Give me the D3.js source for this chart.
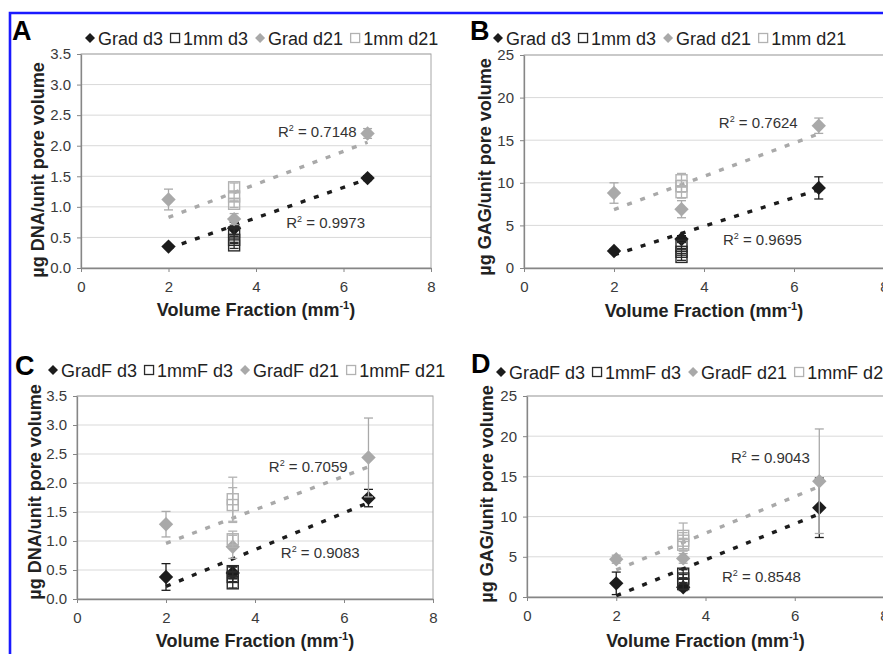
<!DOCTYPE html>
<html><head><meta charset="utf-8">
<script src="https://cdn.jsdelivr.net/npm/d3@7"></script>
<style>
body{margin:0;background:#fff}
svg{display:block}
text{font-family:"Liberation Sans",Arial,sans-serif}
</style>
</head><body>
<svg id="c" width="883" height="654"></svg>
<script>
// ---------- data ----------
const xTicks = [0, 2, 4, 6, 8];
const dnaTicks = [0, 0.5, 1, 1.5, 2, 2.5, 3, 3.5];
const gagTicks = [0, 5, 10, 15, 20, 25];

const gradX = [2, 3.5, 6.55];
const oneMmX = [3.5, 3.5, 3.5];

const legendAB = ["Grad d3", "1mm d3", "Grad d21", "1mm d21"];
const legendCD = ["GradF d3", "1mmF d3", "GradF d21", "1mmF d21"];

// Panel A: DNA
const A_gradD3 = [0.35, 0.65, 1.47],  A_gradD3Err = [0.03, 0.1, 0.04];
const A_1mmD3 = [0.58, 0.46, 0.37],   A_1mmD3Err = [0.06, 0.06, 0.05];
const A_gradD21 = [1.12, 0.80, 2.20], A_gradD21Err = [0.17, 0.09, 0.08];
const A_1mmD21 = [1.32, 1.17, 1.05],  A_1mmD21Err = [0.07, 0.08, 0.06];
const A_r2 = ["0.7148", "0.9973"];

// Panel B: GAG
const B_gradD3 = [2.0, 3.4, 9.4],     B_gradD3Err = [0.2, 0.4, 1.3];
const B_1mmD3 = [2.6, 1.9, 1.3],      B_1mmD3Err = [0.4, 0.4, 0.4];
const B_gradD21 = [8.8, 6.9, 16.7],   B_gradD21Err = [1.2, 1.0, 0.9];
const B_1mmD21 = [10.3, 9.6, 8.9],    B_1mmD21Err = [0.8, 0.7, 0.7];
const B_r2 = ["0.7624", "0.9695"];

// Panel C: DNA (F)
const C_gradD3 = [0.38, 0.45, 1.74],  C_gradD3Err = [0.23, 0.1, 0.15];
const C_1mmD3 = [0.48, 0.38, 0.27],   C_1mmD3Err = [0.08, 0.08, 0.08];
const C_gradD21 = [1.29, 0.90, 2.44], C_gradD21Err = [0.22, 0.2, 0.68];
const C_1mmD21 = [1.72, 1.62, 1.03],  C_1mmD21Err = [0.38, 0.3, 0.14];
const C_r2 = ["0.7059", "0.9083"];

// Panel D: GAG (F)
const D_gradD3 = [1.7, 1.2, 11.1],    D_gradD3Err = [1.4, 0.4, 3.7];
const D_1mmD3 = [2.9, 2.3, 1.6],      D_1mmD3Err = [0.5, 0.5, 0.6];
const D_gradD21 = [4.7, 4.8, 14.4],   D_gradD21Err = [0.5, 0.6, 6.5];
const D_1mmD21 = [7.6, 7.0, 6.5],     D_1mmD21Err = [1.6, 1.0, 0.8];
const D_r2 = ["0.9043", "0.8548"];

// ---------- layout ----------
const panels = [
  {id:"A", ticks:dnaTicks, fmt:d3.format(".1f"), ytitle:"µg DNA/unit pore volume", legend:legendAB,
   s:[A_gradD3,A_1mmD3,A_gradD21,A_1mmD21], e:[A_gradD3Err,A_1mmD3Err,A_gradD21Err,A_1mmD21Err], r2:A_r2,
   r2Pos:[[4.5,2.14],[4.69,0.65]],
   box:{x0:81,x1:431,y0:268,y1:54}, letter:[12,40], legX:85, legY:38, yt:[44,170], xtY:316},
  {id:"B", ticks:gagTicks, fmt:d3.format("d"), ytitle:"µg GAG/unit pore volume", legend:legendAB,
   s:[B_gradD3,B_1mmD3,B_gradD21,B_1mmD21], e:[B_gradD3Err,B_1mmD3Err,B_gradD21Err,B_1mmD21Err], r2:B_r2,
   r2Pos:[[4.33,16.4],[4.42,2.7]],
   box:{x0:524,x1:884,y0:268,y1:55}, letter:[470,40], legX:493, legY:38, yt:[491,167], xtY:317},
  {id:"C", ticks:dnaTicks, fmt:d3.format(".1f"), ytitle:"µg DNA/unit pore volume", legend:legendCD,
   s:[C_gradD3,C_1mmD3,C_gradD21,C_1mmD21], e:[C_gradD3Err,C_1mmD3Err,C_gradD21Err,C_1mmD21Err], r2:C_r2,
   r2Pos:[[4.31,2.19],[4.58,0.71]],
   box:{x0:77,x1:433,y0:599,y1:396}, letter:[15,375], legX:48, legY:370, yt:[41,492], xtY:647},
  {id:"D", ticks:gagTicks, fmt:d3.format("d"), ytitle:"µg GAG/unit pore volume", legend:legendCD,
   s:[D_gradD3,D_1mmD3,D_gradD21,D_1mmD21], e:[D_gradD3Err,D_1mmD3Err,D_gradD21Err,D_1mmD21Err], r2:D_r2,
   r2Pos:[[4.57,16.7],[4.37,1.87]],
   box:{x0:527,x1:884,y0:597,y1:396}, letter:[471,373], legX:496, legY:372, yt:[493,494], xtY:647}
];

const BLACK = "#1c1c1c", GRAY = "#a9a9a9", SQ_BLACK = "#2a2a2a", SQ_GRAY = "#b2b2b2";
const seriesStyle = [
  {shape:"diamond", color:BLACK, x:gradX},
  {shape:"square", color:SQ_BLACK, x:oneMmX},
  {shape:"diamond", color:GRAY, x:gradX},
  {shape:"square", color:SQ_GRAY, x:oneMmX}
];

const svg = d3.select("#c");
svg.append("rect").attr("width",883).attr("height",654).attr("fill","#fff");

function diamond(r){ return `M0,${-r}L${r},0L0,${r}L${-r},0Z`; }
function linReg(xs, ys){
  const mx = d3.mean(xs), my = d3.mean(ys);
  let sxy = 0, sxx = 0;
  xs.forEach((x,i)=>{ sxy += (x-mx)*(ys[i]-my); sxx += (x-mx)*(x-mx); });
  const b = sxy/sxx;
  return x => my + b*(x-mx);
}

panels.forEach(p=>{
  const g = svg.append("g");
  const ymax = p.ticks[p.ticks.length-1];
  const x = d3.scaleLinear([0,8],[p.box.x0,p.box.x1]);
  const y = d3.scaleLinear([0,ymax],[p.box.y0,p.box.y1]);

  // gridlines
  g.selectAll("line.grid").data(p.ticks.filter(t=>t>0)).join("line").attr("class","grid")
    .attr("x1",x(0)).attr("x2",x(8)).attr("y1",d=>y(d)).attr("y2",d=>y(d))
    .attr("stroke","#d9d9d9").attr("stroke-width",1);
  g.append("rect").attr("x",x(0)).attr("y",y(ymax)).attr("width",x(8)-x(0)).attr("height",y(0)-y(ymax))
    .attr("fill","none").attr("stroke","#a6a6a6");

  // axes
  const ya = g.append("g").attr("transform",`translate(${x(0)},0)`)
    .call(d3.axisLeft(y).tickValues(p.ticks).tickFormat(p.fmt).tickSize(4).tickSizeOuter(0).tickPadding(6));
  const xa = g.append("g").attr("transform",`translate(0,${y(0)})`)
    .call(d3.axisBottom(x).tickValues(xTicks).tickFormat(d3.format("d")).tickSize(4).tickSizeOuter(0).tickPadding(9));
  [ya,xa].forEach(a=>{
    a.attr("font-family",null).attr("font-size",null);
    a.select(".domain").attr("stroke","#868686").attr("stroke-width",1.3);
    a.selectAll(".tick line").attr("stroke","#868686");
    a.selectAll(".tick text").attr("font-size",15).attr("fill","#3a3a3a");
  });

  // trend lines (least squares through the gradient points)
  [[0,BLACK],[2,GRAY]].forEach(([si,col])=>{
    const f = linReg(gradX, p.s[si]);
    const xs = d3.extent(gradX);
    g.append("line").attr("x1",x(xs[0])).attr("x2",x(xs[1]))
      .attr("y1",y(f(xs[0]))).attr("y2",y(f(xs[1])))
      .attr("stroke",col).attr("stroke-width",3.4).attr("stroke-dasharray","5,9");
  });

  // series
  seriesStyle.forEach((st,si)=>{
    const pts = p.s[si].map((v,i)=>({x:st.x[i], v, e:p.e[si][i]}));
    const eg = g.append("g").attr("stroke",st.color).attr("stroke-width",1.3);
    pts.forEach(d=>{
      const cx = x(d.x);
      eg.append("line").attr("x1",cx).attr("x2",cx).attr("y1",y(d.v-d.e)).attr("y2",y(d.v+d.e));
      [d.v-d.e, d.v+d.e].forEach(yy=>eg.append("line").attr("x1",cx-4.5).attr("x2",cx+4.5).attr("y1",y(yy)).attr("y2",y(yy)));
    });
    if(st.shape==="diamond"){
      g.selectAll(null).data(pts).join("path")
        .attr("d",diamond(7.2)).attr("transform",d=>`translate(${x(d.x)},${y(d.v)})`)
        .attr("fill",st.color);
    } else {
      g.selectAll(null).data(pts).join("rect")
        .attr("x",d=>x(d.x)-5.5).attr("y",d=>y(d.v)-5.5).attr("width",11).attr("height",11)
        .attr("fill","none").attr("stroke",st.color).attr("stroke-width",1.4);
    }
  });

  // R² labels
  p.r2.forEach((val,i)=>{
    const t = g.append("text").attr("x",x(p.r2Pos[i][0])).attr("y",y(p.r2Pos[i][1]))
      .attr("font-size",15).attr("fill","#333");
    t.append("tspan").text("R");
    t.append("tspan").text("2").attr("font-size",9).attr("dy",-6);
    t.append("tspan").text(" = " + val).attr("dy",6);
  });

  // panel letter
  g.append("text").attr("x",p.letter[0]).attr("y",p.letter[1]).text(p.id)
    .attr("font-size",27).attr("font-weight","bold").attr("fill","#000");

  // legend
  let lx = p.legX;
  p.legend.forEach((name,i)=>{
    const st = seriesStyle[i];
    if(st.shape==="diamond"){
      g.append("path").attr("d",diamond(5)).attr("transform",`translate(${lx+5},${p.legY})`).attr("fill",st.color);
    } else {
      g.append("rect").attr("x",lx+0.5).attr("y",p.legY-4.5).attr("width",9).attr("height",9)
        .attr("fill","none").attr("stroke",st.color).attr("stroke-width",1.3);
    }
    const t = g.append("text").attr("x",lx+13).attr("y",p.legY+6.5).text(name)
      .attr("font-size",18).attr("fill","#222");
    lx += 13 + t.node().getComputedTextLength() + 7;
  });

  // axis titles
  const xt = g.append("text").attr("x",(x(0)+x(8))/2).attr("y",p.xtY).attr("text-anchor","middle")
    .attr("font-size",18).attr("font-weight","bold").attr("fill","#222");
  xt.append("tspan").text("Volume Fraction (mm");
  xt.append("tspan").text("-1").attr("font-size",11).attr("dy",-7);
  xt.append("tspan").text(")").attr("dy",7);

  g.append("text").attr("transform",`translate(${p.yt[0]},${p.yt[1]}) rotate(-90)`)
    .attr("text-anchor","middle").attr("font-size",18).attr("font-weight","bold").attr("fill","#222")
    .text(p.ytitle);
});

// blue frame
svg.append("path").attr("d","M10,654V13H883").attr("fill","none").attr("stroke","#1a1aff").attr("stroke-width",2.6);
</script>
</body></html>
